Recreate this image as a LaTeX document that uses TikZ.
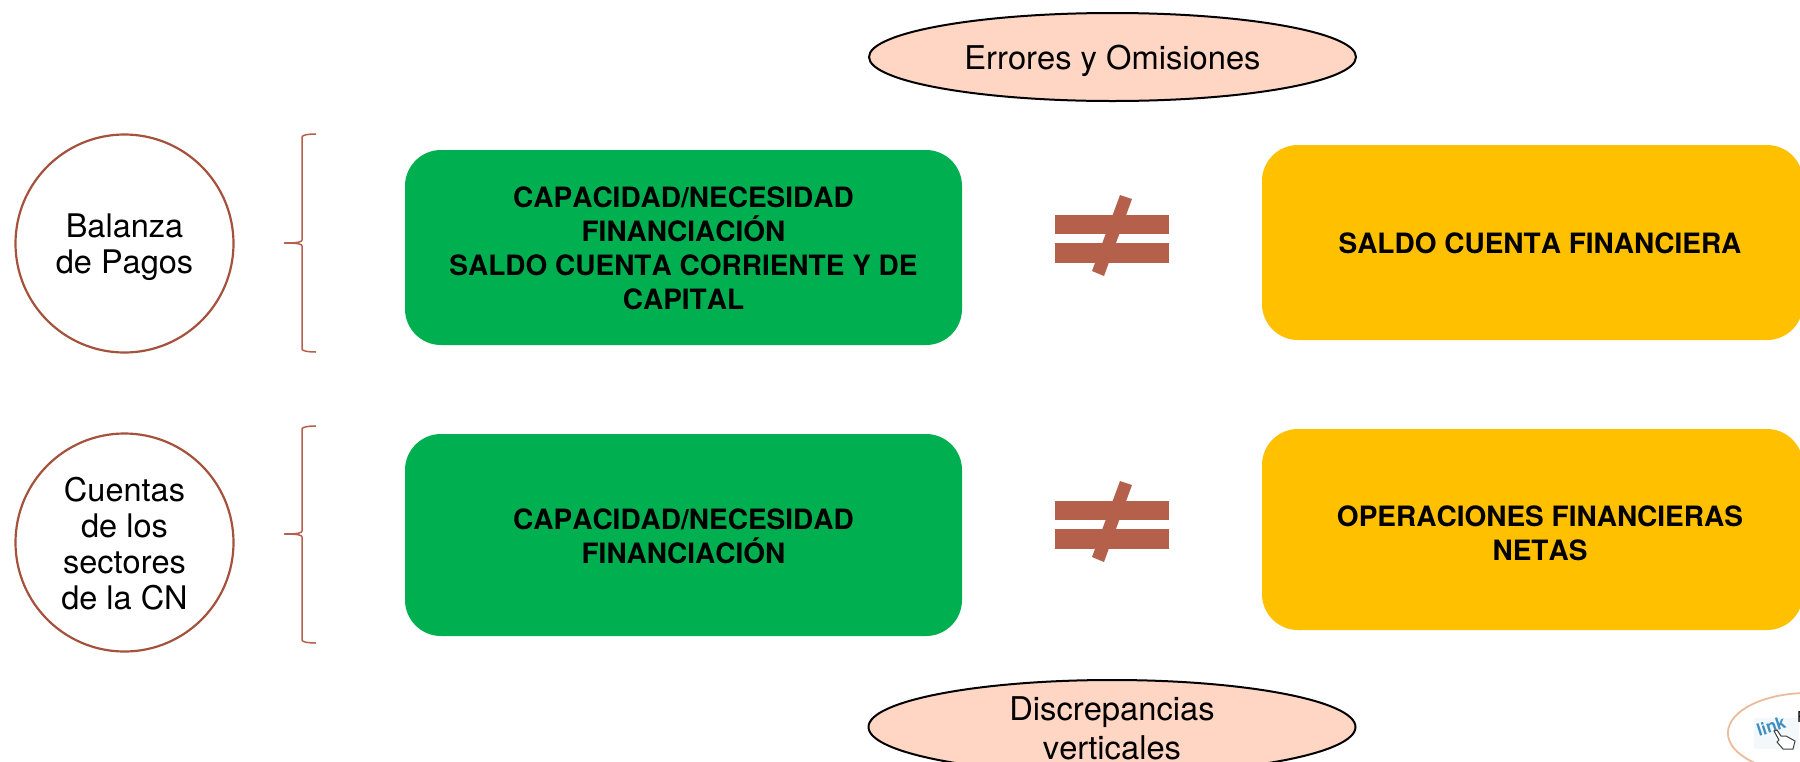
\documentclass[tikz,border=0pt]{standalone}
\usepackage{fontspec}
\setmainfont{TeX Gyre Heros}[Kerning=Off]
\definecolor{grn}{HTML}{00B050}
\definecolor{yel}{HTML}{FFC000}
\definecolor{peach}{HTML}{FFD5C3}
\definecolor{rust}{HTML}{B5604A}
\definecolor{circ}{HTML}{A5523C}
\definecolor{lnk}{HTML}{3F8FC0}
\usetikzlibrary{shapes.geometric}
\tikzset{
  x=1pt,y=-1pt,
  circlenode/.style={circle,draw=circ,line width=2.2pt,minimum size=218pt,inner sep=0pt},
  circlelabel/.style={inner sep=0pt,align=center,font=\fontsize{32.5}{36}\selectfont},
  greenbox/.style={rectangle,rounded corners=36pt,fill=grn,minimum width=557pt,inner sep=0pt},
  yellowbox/.style={rectangle,rounded corners=36pt,fill=yel,minimum width=541pt,inner sep=0pt},
  boxlabel/.style={inner sep=0pt,align=center,font=\fontsize{28}{34}\selectfont\bfseries},
  ovalnode/.style={ellipse,draw=black,line width=2pt,fill=peach,minimum width=487pt,minimum height=88pt,inner sep=0pt},
  ovallabel/.style={inner sep=0pt,align=center,font=\fontsize{32.7}{39}\selectfont},
  bracketline/.style={draw=rust,line width=1.5pt},
  neqbar/.style={fill=rust},
}
\begin{document}
\begin{tikzpicture}
\useasboundingbox (0,0) rectangle (1800,761);
\fill[white] (0,0) rectangle (1800,761);
% ovals
\node[ovalnode] (errores) at (1112.5,57) {};
\node[ovallabel] (erroreslabel) at (1112.5,61) {Errores y Omisiones};
\node[ovalnode,minimum height=94pt] (discrep) at (1112,727) {};
\node[ovallabel] (discreplabel) at (1112,728) {Discrepancias\\verticales};
% circles
\node[circlenode] (balanza) at (124.5,243.5) {};
\node[circlelabel] (balanzalabel) at (124.5,247) {Balanza\\de Pagos};
\node[circlenode] (cuentas) at (124.5,542.5) {};
\node[circlelabel] (cuentaslabel) at (124.5,543.5) {Cuentas\\de los\\sectores\\de la CN};
% boxes
\node[greenbox,minimum height=195pt] (g1) at (683.5,247.5) {};
\node[boxlabel] (g1label) at (683.5,248.5) {CAPACIDAD/NECESIDAD\\FINANCIACIÓN\\SALDO CUENTA CORRIENTE Y DE\\CAPITAL};
\node[greenbox,minimum height=202pt] (g2) at (683.5,535) {};
\node[boxlabel] (g2label) at (683.5,536) {CAPACIDAD/NECESIDAD\\FINANCIACIÓN};
\node[yellowbox,minimum height=195pt] (y1) at (1532.5,242.5) {};
\node[boxlabel] (y1label) at (1540,243) {SALDO CUENTA FINANCIERA};
\node[yellowbox,minimum height=201pt] (y2) at (1532.5,529.5) {};
\node[boxlabel] (y2label) at (1540,533) {OPERACIONES FINANCIERAS\\NETAS};
% brackets
\draw[bracketline] (316,134) .. controls (308,134) and (302,135) .. (302,137) -- (302,240) .. controls (302,242) and (298,243) .. (284,243) .. controls (298,243) and (302,244) .. (302,246) -- (302,349) .. controls (302,351) and (308,352) .. (316,352);
\draw[bracketline] (316,426) .. controls (308,426) and (302,427) .. (302,429) -- (302,531) .. controls (302,533) and (298,534) .. (284,534) .. controls (298,534) and (302,535) .. (302,537) -- (302,640) .. controls (302,642) and (308,643) .. (316,643);
% not-equal signs
\foreach \dy in {0,286}{
  \begin{scope}[yshift=-\dy pt]
    \fill[neqbar] (1055,215) rectangle (1169,234);
    \fill[neqbar] (1055,243) rectangle (1169,263);
    \fill[neqbar] (1120,195) -- (1132,199) -- (1104,276) -- (1092,271) -- cycle;
  \end{scope}
}
% link badge
\node[ellipse,draw=peach!70!brown,line width=1.8pt,fill=white,minimum width=160pt,minimum height=80pt,inner sep=0pt,anchor=west] (badge) at (1727,733) {};
\node[fill=lnk!6,minimum width=45pt,minimum height=31pt,inner sep=0pt] (icon) at (1776,733) {};
\node[rotate=18,text=lnk,font=\fontsize{17}{17}\selectfont\bfseries,inner sep=0pt] (linktext) at (1771,726) {link};
\draw[black!75,line width=1pt,fill=white] (1774,731) -- (1777,730) -- (1781,736) -- (1786,736) -- (1795,741) -- (1793,749) -- (1783,749) -- (1777,742) -- (1779,740) -- cycle;
\node[anchor=west,inner sep=0pt,font=\fontsize{15}{15}\selectfont] (badgetext) at (1797,717) {F};
\end{tikzpicture}
\end{document}
